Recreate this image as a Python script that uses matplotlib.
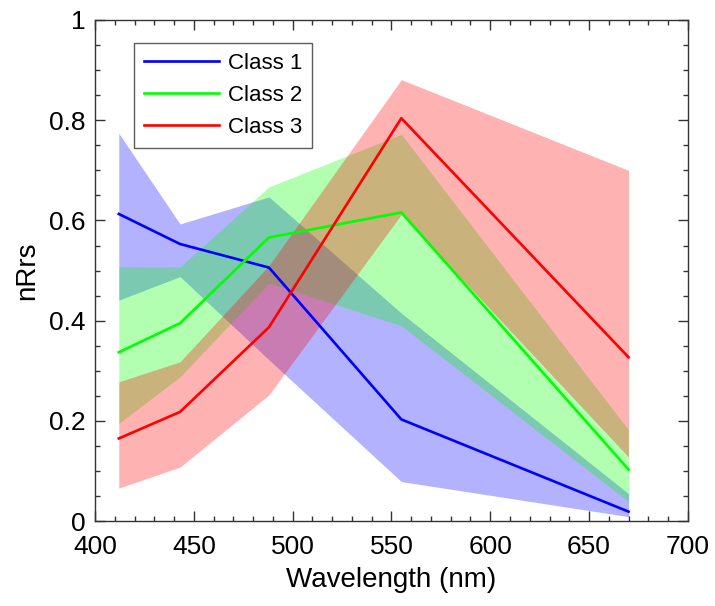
import matplotlib
matplotlib.use("Agg")
import matplotlib.pyplot as plt
from matplotlib.ticker import MultipleLocator

plt.rcParams['font.family'] = ['Liberation Sans', 'DejaVu Sans']

wavelength = [412, 443, 488, 555, 670]

# mean nRrs per class and the shaded range around it
class1_mean = [0.613, 0.553, 0.506, 0.203, 0.019]
class1_upper = [0.774, 0.593, 0.647, 0.415, 0.055]
class1_lower = [0.441, 0.488, 0.322, 0.079, 0.009]

class2_mean = [0.337, 0.395, 0.566, 0.616, 0.103]
class2_upper = [0.508, 0.507, 0.667, 0.772, 0.182]
class2_lower = [0.195, 0.288, 0.475, 0.390, 0.039]

class3_mean = [0.165, 0.218, 0.387, 0.804, 0.327]
class3_upper = [0.278, 0.318, 0.510, 0.881, 0.700]
class3_lower = [0.066, 0.108, 0.252, 0.612, 0.128]

class_names = ['Class 1', 'Class 2', 'Class 3']
colors = [(0, 0, 1), (0, 1, 0), (1, 0, 0)]
means = [class1_mean, class2_mean, class3_mean]
uppers = [class1_upper, class2_upper, class3_upper]
lowers = [class1_lower, class2_lower, class3_lower]

fig = plt.figure(figsize=(7.15, 6.06), dpi=100)
ax = fig.add_axes([0.133, 0.140, 0.829, 0.827])

for name, color, mean, upper, lower in zip(class_names, colors, means, uppers, lowers):
    ax.fill_between(wavelength, lower, upper, color=color, alpha=0.3, linewidth=0)
for name, color, mean in zip(class_names, colors, means):
    ax.plot(wavelength, mean, color=color, linewidth=1.9, label=name)

ax.set_xlim(400, 700)
ax.set_ylim(0, 1)
ax.xaxis.set_major_locator(MultipleLocator(50))
ax.xaxis.set_minor_locator(MultipleLocator(10))
ax.yaxis.set_major_locator(MultipleLocator(0.2))
ax.yaxis.set_minor_locator(MultipleLocator(0.05))
ax.set_yticks([0, 0.2, 0.4, 0.6, 0.8, 1])
ax.set_yticklabels(['0', '0.2', '0.4', '0.6', '0.8', '1'])

ax.tick_params(which='both', direction='in', top=True, right=True, labelsize=19,
               color='#333333')
ax.tick_params(axis='x', which='both', pad=10)
ax.tick_params(axis='y', which='both', pad=7)
ax.tick_params(which='major', length=7, width=1)
ax.tick_params(which='minor', length=3.5, width=1)
for spine in ax.spines.values():
    spine.set_color('#333333')
    spine.set_linewidth(1)

ax.set_xlabel('Wavelength (nm)', fontsize=20, labelpad=6)
ax.set_ylabel('nRrs', fontsize=20, labelpad=6)

leg = ax.legend(loc='upper left', bbox_to_anchor=(0.065, 0.955), fontsize=16, frameon=True,
                fancybox=False, edgecolor='#333333', handlelength=3.4, handletextpad=0.4,
                borderpad=0.45, labelspacing=0.5, borderaxespad=0)
leg.get_frame().set_linewidth(1)

fig.savefig('out.png', dpi=100)
